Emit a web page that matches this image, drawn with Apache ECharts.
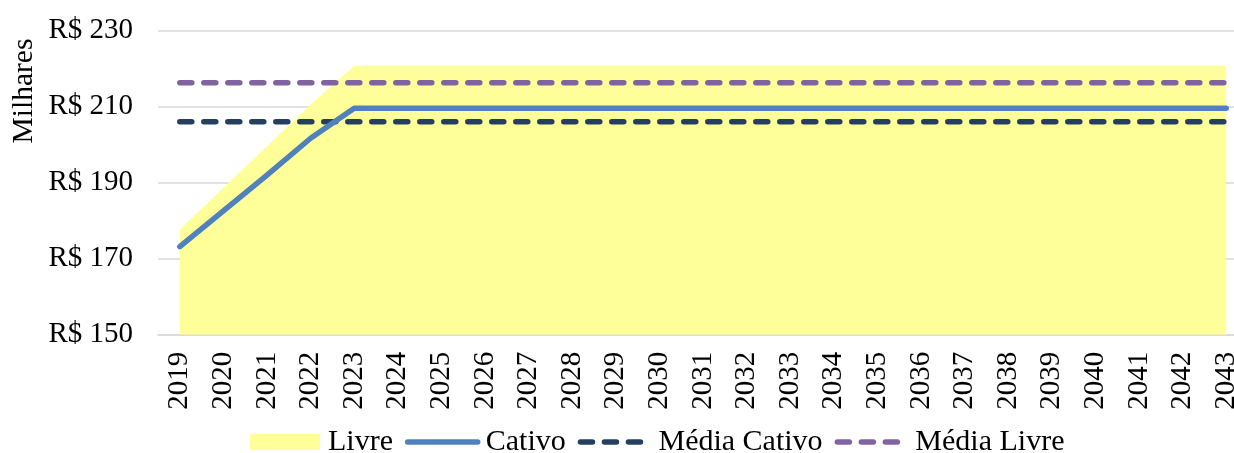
<!DOCTYPE html>
<html>
<head>
<meta charset="utf-8">
<script src="https://cdn.jsdelivr.net/npm/echarts@6/dist/echarts.min.js"></script>
<style>
  html, body { margin: 0; padding: 0; background: #fff; width: 1234px; height: 453px; overflow: hidden; }
  #chart { width: 1250px; height: 453px; }
</style>
</head>
<body>
<div id="chart"></div>
<script>
// Anos da projeção
const anos = ['2019','2020','2021','2022','2023','2024','2025','2026','2027','2028','2029','2030',
  '2031','2032','2033','2034','2035','2036','2037','2038','2039','2040','2041','2042','2043'];

// Custos anuais (R$ milhares)
const livre = [177.7, 188.7, 199.6, 210.6, 220.8, 220.8, 220.8, 220.8, 220.8, 220.8, 220.8, 220.8,
  220.8, 220.8, 220.8, 220.8, 220.8, 220.8, 220.8, 220.8, 220.8, 220.8, 220.8, 220.8, 220.8];
const cativo = [173.2, 182.6, 192.0, 201.7, 209.6, 209.6, 209.6, 209.6, 209.6, 209.6, 209.6, 209.6,
  209.6, 209.6, 209.6, 209.6, 209.6, 209.6, 209.6, 209.6, 209.6, 209.6, 209.6, 209.6, 209.6];
const mediaCativoValor = 206.05;
const mediaLivreValor = 216.3;
const mediaCativo = anos.map(() => mediaCativoValor);
const mediaLivre = anos.map(() => mediaLivreValor);

// Eixo vertical
const eixoMin = 150, eixoMax = 230, eixoPasso = 20;

const fonte = '"Liberation Serif", "Times New Roman", serif';
const corLivre = '#ffff99', corCativo = '#4f81bd', corMediaCativo = '#243f60', corMediaLivre = '#8064a2';
const tracejado = [12, 12];
const transparente = 'rgba(0,0,0,0)';

const chart = echarts.init(document.getElementById('chart'));

chart.setOption({
  animation: false,
  backgroundColor: '#ffffff',
  textStyle: { fontFamily: fonte, color: '#000' },
  grid: { left: 158, top: 30.7, width: 1090, height: 304 },
  legend: {
    left: 250,
    top: 427,
    padding: 0,
    itemWidth: 70,
    itemHeight: 16,
    itemGap: 12,
    textStyle: { fontFamily: fonte, fontSize: 30, color: '#000', padding: [0, 0, 0, 3] },
    data: [
      { name: 'Livre', icon: 'rect', itemStyle: { color: corLivre } },
      { name: 'Cativo', itemStyle: { color: transparente, borderWidth: 0 },
        lineStyle: { color: corCativo, width: 5.5, cap: 'round' } },
      { name: 'Média Cativo', itemStyle: { color: transparente, borderWidth: 0 },
        lineStyle: { color: corMediaCativo, width: 5.5, type: tracejado, cap: 'round' } },
      { name: 'Média Livre', itemStyle: { color: transparente, borderWidth: 0 },
        lineStyle: { color: corMediaLivre, width: 5.5, type: tracejado, cap: 'round' } }
    ]
  },
  graphic: [{
    type: 'text',
    x: 24, y: 91,
    rotation: Math.PI / 2,
    style: {
      text: 'Milhares',
      fontFamily: fonte,
      fontSize: 29.5,
      fill: '#000',
      textAlign: 'center',
      textVerticalAlign: 'middle'
    }
  }],
  xAxis: {
    type: 'category',
    data: anos,
    boundaryGap: true,
    axisLine: { show: true, lineStyle: { color: '#d9d9d9', width: 1.5 } },
    axisTick: { show: false },
    axisLabel: { rotate: 90, fontSize: 29, fontFamily: fonte, color: '#000', margin: 17, interval: 0 }
  },
  yAxis: {
    type: 'value',
    min: eixoMin,
    max: eixoMax,
    interval: eixoPasso,
    axisLine: { show: false },
    axisTick: { show: false },
    splitLine: { lineStyle: { color: '#d9d9d9', width: 1.5 } },
    axisLabel: {
      fontSize: 29, fontFamily: fonte, color: '#000', margin: 25,
      formatter: v => 'R$ ' + v
    }
  },
  series: [
    {
      name: 'Livre',
      type: 'line',
      data: livre,
      symbol: 'none',
      lineStyle: { width: 0, color: corLivre },
      itemStyle: { color: corLivre },
      areaStyle: { color: corLivre, opacity: 1 },
      z: 1
    },
    {
      name: 'Cativo',
      type: 'line',
      data: cativo,
      symbol: 'none',
      lineStyle: { width: 5.5, color: corCativo, cap: 'round', join: 'round' },
      itemStyle: { color: corCativo },
      z: 3
    },
    {
      name: 'Média Cativo',
      type: 'line',
      data: mediaCativo,
      symbol: 'none',
      lineStyle: { width: 5.5, color: corMediaCativo, type: tracejado, cap: 'round' },
      itemStyle: { color: corMediaCativo },
      z: 2
    },
    {
      name: 'Média Livre',
      type: 'line',
      data: mediaLivre,
      symbol: 'none',
      lineStyle: { width: 5.5, color: corMediaLivre, type: tracejado, cap: 'round' },
      itemStyle: { color: corMediaLivre },
      z: 2
    }
  ]
});
</script>
</body>
</html>
